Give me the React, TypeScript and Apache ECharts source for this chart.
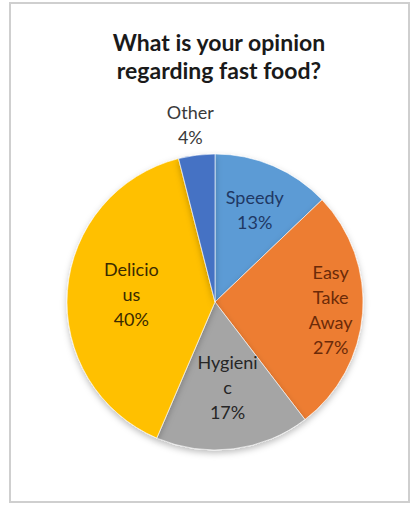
import React, { useEffect, useRef } from 'react';
import * as echarts from 'echarts';

const titleText = 'What is your opinion\nregarding fast food?';
const categories = ['Speedy', 'Easy Take Away', 'Hygienic', 'Delicious', 'Other'];
const values = [13, 27, 17, 40, 4];
const labelTexts = ['Speedy', 'Easy\nTake\nAway', 'Hygieni\nc', 'Delicio\nus', 'Other'];
const sliceColors = ['#5B9BD5', '#ED7D31', '#A5A5A5', '#FFC000', '#4472C4'];
const labelColors = ['#1F3864', '#6B2A08', '#262626', '#3A2A00', '#3A3A3A'];
// label padding [top, right, bottom, left] used to nudge Excel-like "best fit" placements
const labelPads = [[0, 0, 0, 0], [0, 0, 0, 30], [0, 0, 30, 0], [0, 0, 0, 34], [0, 0, 0, 0]];
const labelPositions = ['inside', 'inside', 'inside', 'inside', 'outside'];

export default function App() {
  const ref = useRef<HTMLDivElement>(null);
  useEffect(() => {
    if (!ref.current) return;
    const chart = echarts.init(ref.current, null, { renderer: 'svg' });
    const center = [215, 302];
    const R = 148;
    chart.setOption({
      animation: false,
      backgroundColor: '#ffffff',
      graphic: [
        {
          type: 'rect',
          shape: { x: 10, y: 3, width: 399, height: 499 },
          style: { fill: 'none', stroke: '#cfcfcf', lineWidth: 2 },
          z: -10,
        },
      ],
      title: {
        text: titleText,
        left: 214,
        top: 23,
        textAlign: 'center',
        textStyle: {
          fontFamily: 'Lato',
          fontWeight: 'bold',
          fontSize: 23,
          lineHeight: 28,
          color: '#1a1a1a',
        },
      },
      series: [
        {
          type: 'pie',
          center,
          radius: [0, R],
          startAngle: 90,
          clockwise: true,
          silent: true,
          label: { show: false },
          labelLine: { show: false },
          itemStyle: {
            borderColor: '#ffffff',
            borderWidth: 0.6,
            shadowBlur: 6,
            shadowOffsetY: 3,
            shadowColor: 'rgba(0,0,0,0.25)',
          },
          data: categories.map((name, i) => ({
            name,
            value: values[i],
            itemStyle: { color: sliceColors[i] },
          })),
        },
        {
          type: 'pie',
          center,
          radius: [48, R],
          startAngle: 90,
          clockwise: true,
          silent: true,
          z: 5,
          itemStyle: { color: 'rgba(0,0,0,0)' },
          labelLine: { show: false, length: 31, length2: -26 },
          label: {
            fontFamily: 'Lato',
            fontSize: 18,
            lineHeight: 25,
            align: 'center',
          },
          data: categories.map((name, i) => ({
            name,
            value: values[i],
            label: {
              show: true,
              position: labelPositions[i],
              color: labelColors[i],
              padding: labelPads[i],
              formatter: (p: any) =>
                '{t|' + labelTexts[p.dataIndex].split('\n').join('}\n{t|') + '}\n{t|' + p.value + '%}',
              rich: {
                t: {
                  align: 'center',
                  fontFamily: 'Lato',
                  fontSize: 18,
                  lineHeight: 25,
                  color: labelColors[i],
                },
              },
            },
          })),
        },
      ],
    });
    return () => chart.dispose();
  }, []);
  return (
    <div
      ref={ref}
      style={{ position: 'absolute', left: 0, top: 0, width: 411, height: 509 }}
    />
  );
}
